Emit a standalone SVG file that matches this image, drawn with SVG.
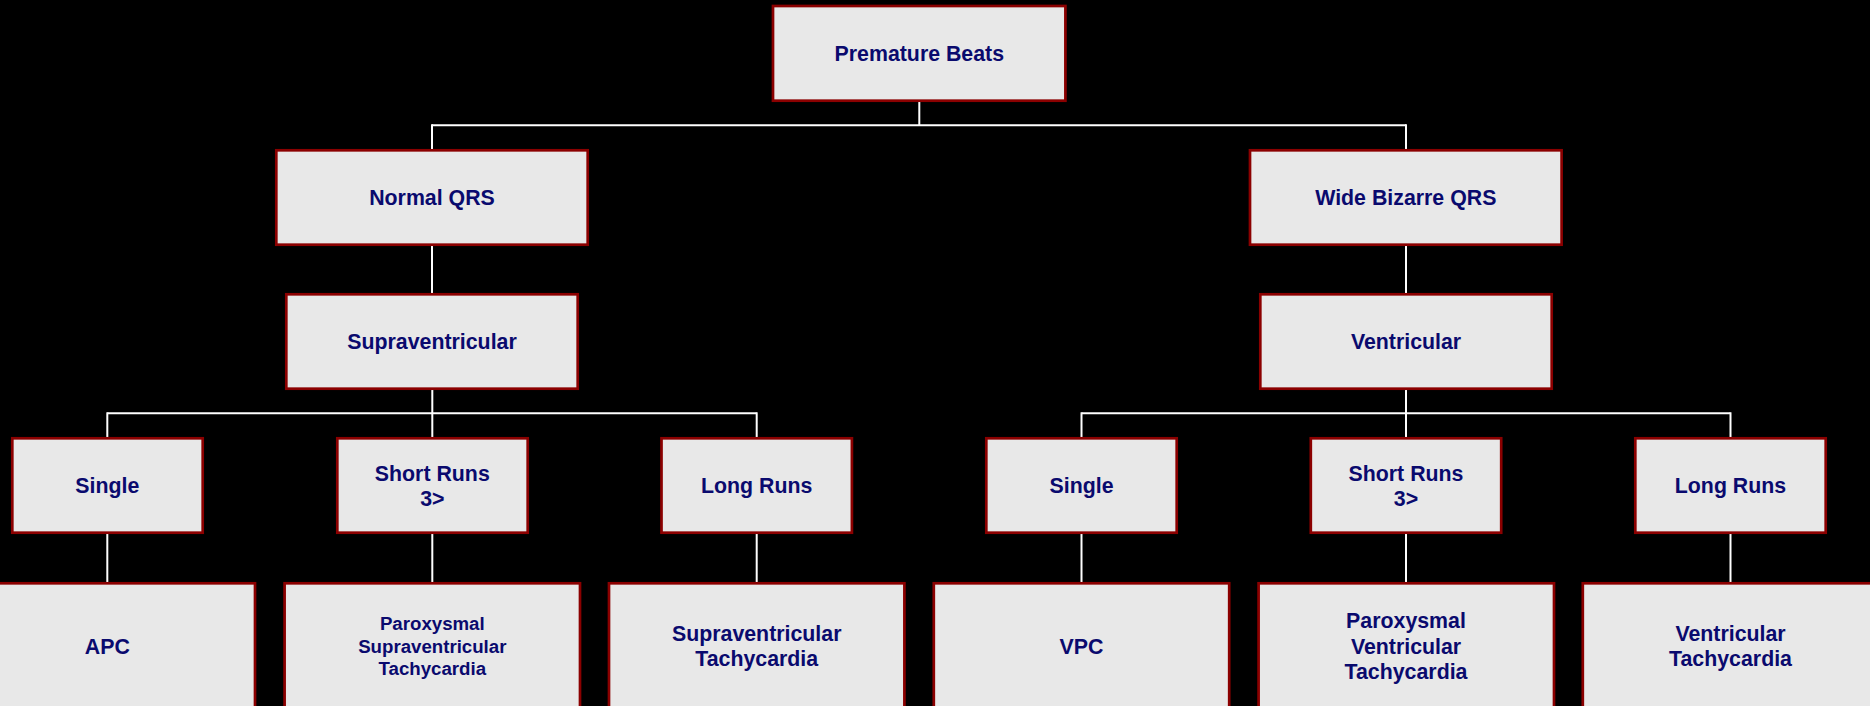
<svg xmlns="http://www.w3.org/2000/svg" width="1870" height="706" viewBox="0 0 1870 706">
<style>
.bg{fill:#000000}
.box{fill:#E8E8E8;stroke:#8B0000;stroke-width:2.7}
.lbl{font-family:"Liberation Sans",Arial,sans-serif;font-weight:bold;font-size:21.33px;fill:#0A0A6E;text-anchor:middle}
.sm{font-size:18.67px}
.conn line{stroke:#FFFFFF;stroke-width:2}
</style>
<rect class="bg" x="0" y="0" width="1870" height="706"/>
<g id="connectors" class="conn">
<line x1="919.3" y1="102" x2="919.3" y2="125.3"/>
<line x1="432" y1="125.3" x2="1406" y2="125.3"/>
<line x1="432" y1="124.3" x2="432" y2="149"/>
<line x1="1406" y1="124.3" x2="1406" y2="149"/>
<line x1="432" y1="246" x2="432" y2="293"/>
<line x1="1406" y1="246" x2="1406" y2="293"/>
<line x1="432.3" y1="390" x2="432.3" y2="437"/>
<line x1="1406" y1="390" x2="1406" y2="437"/>
<line x1="107.3" y1="413.3" x2="756.7" y2="413.3"/>
<line x1="1081.5" y1="413.3" x2="1730.5" y2="413.3"/>
<line x1="107.3" y1="412.3" x2="107.3" y2="437"/>
<line x1="756.7" y1="412.3" x2="756.7" y2="437"/>
<line x1="1081.5" y1="412.3" x2="1081.5" y2="437"/>
<line x1="1730.5" y1="412.3" x2="1730.5" y2="437"/>
<line x1="107.3" y1="534" x2="107.3" y2="582"/>
<line x1="432.3" y1="534" x2="432.3" y2="582"/>
<line x1="756.7" y1="534" x2="756.7" y2="582"/>
<line x1="1081.5" y1="534" x2="1081.5" y2="582"/>
<line x1="1406" y1="534" x2="1406" y2="582"/>
<line x1="1730.5" y1="534" x2="1730.5" y2="582"/>
</g>
<g id="premature-beats">
<rect class="box" x="773" y="6" width="292.4" height="94.7"/>
<text class="lbl" x="919.3" y="61">Premature Beats</text>
</g>
<g id="normal-qrs">
<rect class="box" x="276.3" y="150.3" width="311.4" height="94.4"/>
<text class="lbl" x="432" y="205">Normal QRS</text>
</g>
<g id="wide-bizarre-qrs">
<rect class="box" x="1250" y="150.3" width="311.6" height="94.4"/>
<text class="lbl" x="1405.8" y="205">Wide Bizarre QRS</text>
</g>
<g id="supraventricular">
<rect class="box" x="286.3" y="294.3" width="291.4" height="94.4"/>
<text class="lbl" x="432" y="349">Supraventricular</text>
</g>
<g id="ventricular">
<rect class="box" x="1260.3" y="294.3" width="291.4" height="94.4"/>
<text class="lbl" x="1406" y="349">Ventricular</text>
</g>
<g id="single-sv">
<rect class="box" x="12.3" y="438.3" width="190.4" height="94.4"/>
<text class="lbl" x="107.3" y="493">Single</text>
</g>
<g id="short-runs-sv">
<rect class="box" x="337.3" y="438.3" width="190.4" height="94.4"/>
<text class="lbl" x="432.3" y="480.7">Short Runs</text>
<text class="lbl" x="432.3" y="506.3">3&gt;</text>
</g>
<g id="long-runs-sv">
<rect class="box" x="661.5" y="438.3" width="190.4" height="94.4"/>
<text class="lbl" x="756.7" y="493">Long Runs</text>
</g>
<g id="single-v">
<rect class="box" x="986.3" y="438.3" width="190.4" height="94.4"/>
<text class="lbl" x="1081.5" y="493">Single</text>
</g>
<g id="short-runs-v">
<rect class="box" x="1310.8" y="438.3" width="190.4" height="94.4"/>
<text class="lbl" x="1406" y="480.7">Short Runs</text>
<text class="lbl" x="1406" y="506.3">3&gt;</text>
</g>
<g id="long-runs-v">
<rect class="box" x="1635.3" y="438.3" width="190.4" height="94.4"/>
<text class="lbl" x="1730.5" y="493">Long Runs</text>
</g>
<g id="apc">
<rect class="box" x="-40.4" y="583.3" width="295.4" height="130"/>
<text class="lbl" x="107.3" y="653.6">APC</text>
</g>
<g id="psvt">
<rect class="box" x="284.6" y="583.3" width="295.4" height="130"/>
<text class="lbl sm" x="432.3" y="630.1">Paroxysmal</text>
<text class="lbl sm" x="432.3" y="652.5">Supraventricular</text>
<text class="lbl sm" x="432.3" y="674.9">Tachycardia</text>
</g>
<g id="svt">
<rect class="box" x="609" y="583.3" width="295.4" height="130"/>
<text class="lbl" x="756.7" y="640.8">Supraventricular</text>
<text class="lbl" x="756.7" y="666.4">Tachycardia</text>
</g>
<g id="vpc">
<rect class="box" x="933.8" y="583.3" width="295.4" height="130"/>
<text class="lbl" x="1081.5" y="653.6">VPC</text>
</g>
<g id="pvt">
<rect class="box" x="1258.6" y="583.3" width="295.4" height="130"/>
<text class="lbl" x="1406" y="628">Paroxysmal</text>
<text class="lbl" x="1406" y="653.6">Ventricular</text>
<text class="lbl" x="1406" y="679.2">Tachycardia</text>
</g>
<g id="vt">
<rect class="box" x="1582.8" y="583.3" width="295.4" height="130"/>
<text class="lbl" x="1730.5" y="640.8">Ventricular</text>
<text class="lbl" x="1730.5" y="666.4">Tachycardia</text>
</g>
</svg>
